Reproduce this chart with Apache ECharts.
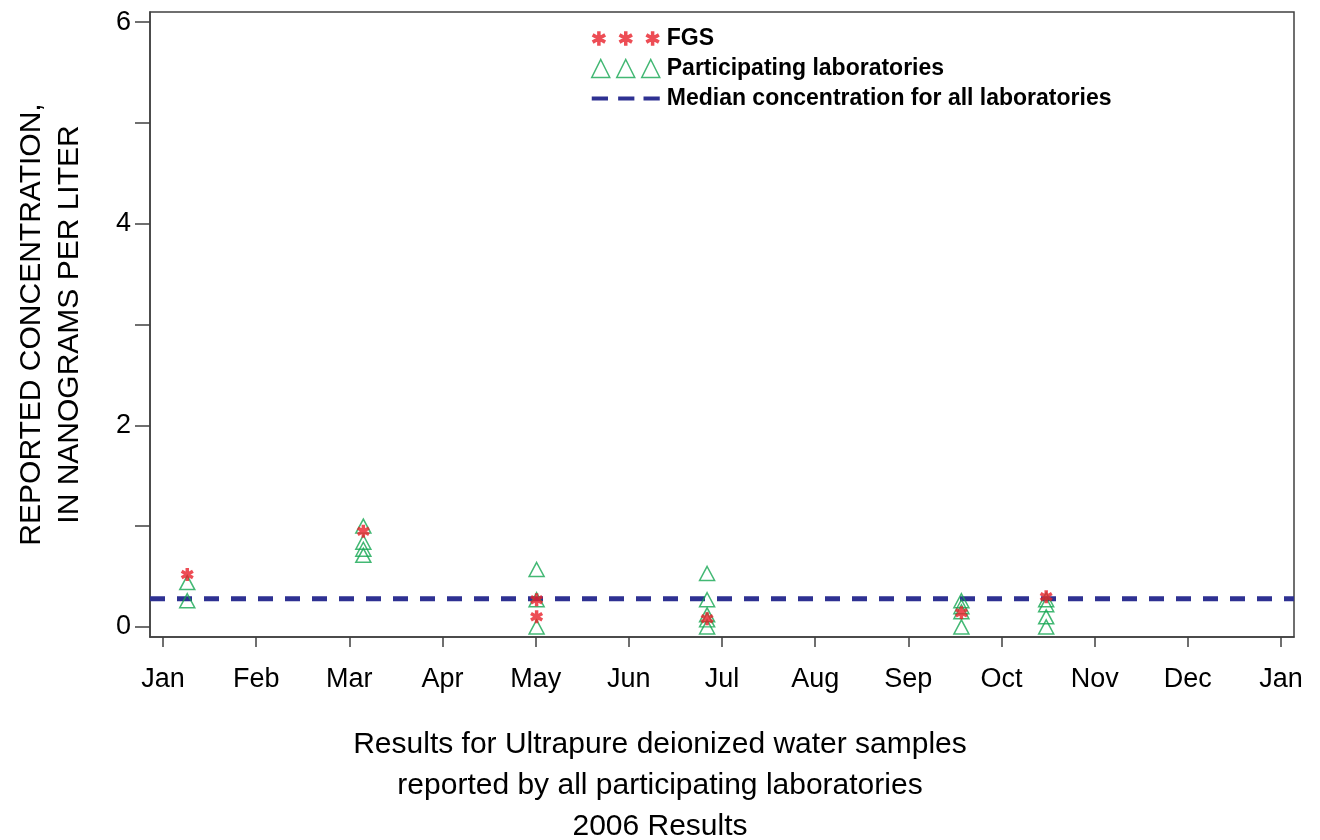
<!DOCTYPE html>
<html>
<head>
<meta charset="utf-8">
<script src="https://cdn.jsdelivr.net/npm/echarts@6/dist/echarts.min.js"></script>
<style>
html,body{margin:0;padding:0;background:#fff;}
#chart{width:1320px;height:840px;}
</style>
</head>
<body>
<div id="chart"></div>
<script>
// ---- data ----
const monthLabels = ['Jan','Feb','Mar','Apr','May','Jun','Jul','Aug','Sep','Oct','Nov','Dec','Jan'];
const monthTicks = [0,1,2,3,4,5,6,7,8,9,10,11,12];
const yTicks = [0,1,2,3,4,5,6];
const yLabelTicks = [0,2,4,6];
const titleLines = ['Results for Ultrapure deionized water samples', 'reported by all participating laboratories', '2006 Results'];
// x = position in months from Jan 1 2006
const fgsX = [0.26, 2.15, 4.01, 4.01, 5.84, 8.57, 9.48];
const fgsY = [0.52, 0.95, 0.27, 0.10, 0.08, 0.14, 0.30];
const labX = [0.26, 0.26, 2.15, 2.15, 2.15, 2.15, 4.01, 4.01, 4.01, 5.84, 5.84, 5.84, 5.84, 5.84, 8.57, 8.57, 8.57, 8.57, 9.48, 9.48, 9.48, 9.48];
const labY = [0.44, 0.26, 1.00, 0.84, 0.77, 0.71, 0.57, 0.27, 0.00, 0.53, 0.27, 0.12, 0.07, 0.00, 0.26, 0.20, 0.15, 0.00, 0.27, 0.22, 0.10, 0.00];
const medianValue = 0.28;
const xMin = -0.14, xMax = 12.14;

// ---- presentation helpers ----
function asteriskPath(cx, cy, l, w) {
  let s = '';
  [0, 60, -60].forEach(a => {
    const r = a * Math.PI / 180, c = Math.cos(r), n = Math.sin(r);
    const pts = [[-w,-l],[w,-l],[w,l],[-w,l]].map(p => [cx + p[0]*c - p[1]*n, cy + p[0]*n + p[1]*c]);
    s += 'M' + pts.map(p => p[0].toFixed(2) + ',' + p[1].toFixed(2)).join('L') + 'Z';
  });
  return s;
}
function trianglePath(cx, cy, h) {
  return 'M' + cx + ',' + (cy - h) + 'L' + (cx + h) + ',' + (cy + h) + 'L' + (cx - h) + ',' + (cy + h) + 'Z';
}
const starSymbol = 'path://' + asteriskPath(0, 0, 6, 1.6);
const legendStars = 'path://' + [7, 33, 59].map(c => asteriskPath(c, 9, 7, 1.7)).join('');
const legendTris = 'path://' + [9, 34, 59].map(c => trianglePath(c, 9, 9)).join('');
const legendDash = 'path://M0,7L16,7L16,11L0,11ZM26,7L42,7L42,11L26,11ZM51,7L67,7L67,11L51,11Z';

const RED = '#e8202a', GREEN = '#14a651', BLUE = '#2e3192';
const FONT = 'Liberation Sans, Arial, sans-serif';

const chart = echarts.init(document.getElementById('chart'));
chart.setOption({
  animation: false,
  backgroundColor: '#fff',
  textStyle: { fontFamily: FONT, color: '#000' },
  grid: { left: 150, right: 26, top: 12, bottom: 203, show: true, borderColor: '#404040', borderWidth: 1.5, backgroundColor: 'transparent' },
  title: titleLines.map((t, i) => ({
    text: t, left: 'center', top: 730 + i * 41, padding: 0,
    textStyle: { fontSize: 30, fontWeight: 'normal', lineHeight: 30, color: '#000', fontFamily: FONT }
  })),
  legend: {
    orient: 'vertical', left: 586, top: 22, itemWidth: 68, itemHeight: 18, itemGap: 7,
    textStyle: { fontSize: 23, fontWeight: 'bold', color: '#000', padding: [0, 0, 0, 2] },
    data: [
      { name: 'FGS', icon: legendStars, itemStyle: { color: RED, borderWidth: 0 } },
      { name: 'Participating laboratories', icon: legendTris, itemStyle: { color: 'rgba(0,0,0,0)', borderColor: GREEN, borderWidth: 1.5 } },
      { name: 'Median concentration for all laboratories', icon: legendDash, itemStyle: { color: BLUE, borderWidth: 0 } }
    ]
  },
  xAxis: {
    type: 'value', min: xMin, max: xMax,
    splitLine: { show: false },
    axisLine: { show: true, onZero: false, lineStyle: { color: '#404040', width: 1.5 } },
    axisTick: { show: true, length: 10, customValues: monthTicks, lineStyle: { color: '#404040', width: 1.5 } },
    axisLabel: { customValues: monthTicks, margin: 29, fontSize: 27, color: '#000',
      formatter: v => monthLabels[Math.round(v)] }
  },
  yAxis: {
    type: 'value', min: -0.1, max: 6.1,
    name: 'REPORTED CONCENTRATION,\nIN NANOGRAMS PER LITER',
    nameLocation: 'middle', nameGap: 61,
    nameTextStyle: { fontSize: 30, lineHeight: 38, color: '#000' },
    splitLine: { show: false },
    axisLine: { show: true, onZero: false, lineStyle: { color: '#404040', width: 1.5 } },
    axisTick: { show: true, length: 15, customValues: yTicks, lineStyle: { color: '#404040', width: 1.5 } },
    axisLabel: { customValues: yLabelTicks, margin: 19, fontSize: 27, color: '#000' }
  },
  series: [
    {
      name: 'Median concentration for all laboratories', type: 'line',
      data: [[xMin, medianValue], [xMax, medianValue]],
      showSymbol: false, symbol: 'none',
      lineStyle: { color: BLUE, width: 5, type: [15, 12] },
      itemStyle: { color: BLUE }, z: 1
    },
    {
      name: 'Participating laboratories', type: 'scatter',
      data: labX.map((x, i) => [x, labY[i]]),
      symbol: 'triangle', symbolSize: [15, 14],
      itemStyle: { color: 'rgba(0,0,0,0)', borderColor: GREEN, borderWidth: 1.5 }, z: 2
    },
    {
      name: 'FGS', type: 'scatter',
      data: fgsX.map((x, i) => [x, fgsY[i]]),
      symbol: starSymbol, symbolSize: 13,
      itemStyle: { color: RED }, z: 3
    }
  ]
});
</script>
</body>
</html>
